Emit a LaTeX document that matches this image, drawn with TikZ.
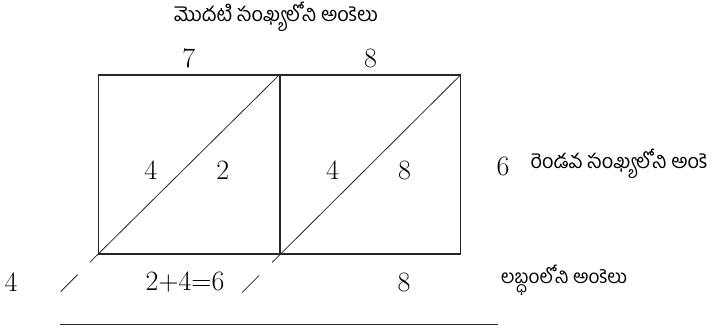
\documentclass[tikz,border=0pt]{standalone}
\usepackage{fontspec}
\newfontfamily\telugu[Script=Telugu]{Hind Guntur}
\usetikzlibrary{positioning,calc}

\begin{document}
\begin{tikzpicture}[x=1pt,y=-1pt,
  cell/.style={draw=black!85,line width=1.1pt,minimum width=181pt,minimum height=179pt,inner sep=0pt},
  digit/.style={font=\fontsize{28}{30}\selectfont},
  tel/.style={font=\telugu\fontsize{20}{22}\selectfont},
  slash/.style={black!85,line width=0.8pt}]
\useasboundingbox (0,0) rectangle (724,336);
\node[cell] (b1) at (188.7,164.5) {};
\node[cell,minimum width=180pt] (b2) at (370.6,164.5) {};
\draw[slash,shorten <=-11pt] (b1.south west) -- (b1.north east);
\draw[slash,shorten <=-11pt] (b2.south west) -- (b2.north east);
% broken ends of the diagonals
\draw[slash] ($(b1.south west)+(-20,20)$) -- ++(-17,17);
\draw[slash] ($(b2.south west)+(-21,21)$) -- ++(-17,17);
\node[digit] (t1) [above=3pt of b1] {7};
\node[digit] (t2) [above=3pt of b2] {8};
\node[digit] (l1) at ($(b1.center)+(-38,6)$) {4};
\node[digit] (r1) at ($(b1.center)+(34,6)$) {2};
\node[digit] (l2) at ($(b2.center)+(-38,6)$) {4};
\node[digit] (r2) at ($(b2.center)+(34,6)$) {8};
\node[tel] (first) at (276,17) {మొదటి సంఖ్యలోని అంకెలు};
\node[digit] (m6) at (503,166) {6};
\node[tel,anchor=west] (second) at (527,164) {రెండవ సంఖ్యలోని అంకె};
\node[digit] (p4) at (11,282) {4};
\node[digit] (p6) at (185,282) {2+4=6};
\node[digit] (p8) at (404,282) {8};
\node[tel,font=\telugu\fontsize{19}{21}\selectfont] (prod) at (564,280) {లబ్ధంలోని అంకెలు};
% result line
\coordinate (ruleL) at (60,325);
\coordinate (ruleR) at (498,325);
\draw[black!85,line width=1pt] (ruleL) -- (ruleR);
\end{tikzpicture}
\end{document}
